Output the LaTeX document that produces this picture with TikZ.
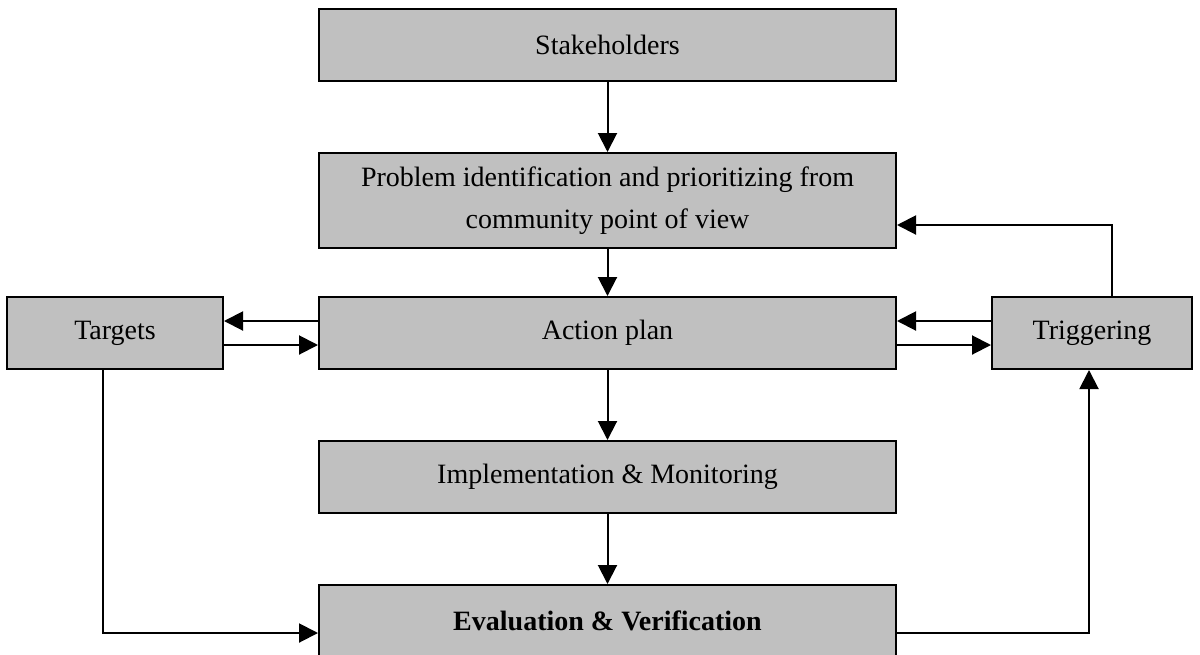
\documentclass[tikz,border=0pt]{standalone}
\usepackage{fontspec}
\setmainfont{Liberation Serif}
\usetikzlibrary{arrows.meta}
\begin{document}
\begin{tikzpicture}[x=0.5pt,y=-0.5pt,
  box/.style={draw=black,line width=1pt,fill={rgb,255:red,192;green,192;blue,192},
    inner sep=0pt,align=center,font=\fontsize{14}{21}\selectfont},
  arr/.style={draw=black,line width=1pt,-{Triangle[length=9.5pt,width=9.5pt]}}]
\useasboundingbox (0,0) rectangle (1200,654);
\node[box,minimum width=288.5pt,minimum height=36pt] (stake) at (607.5,45) {Stakeholders};
\node[box,minimum width=288.5pt,minimum height=47.5pt] (prob) at (607.5,200.5) {Problem identification and prioritizing from\\community point of view};
\node[box,minimum width=288.5pt,minimum height=36pt] (act) at (607.5,333) {Action plan};
\node[box,minimum width=108pt,minimum height=36pt] (tgt) at (115,333) {Targets};
\node[box,minimum width=100pt,minimum height=36pt] (trig) at (1092,333) {Triggering};
\node[box,minimum width=288.5pt,minimum height=36pt] (impl) at (607.5,477) {Implementation \& Monitoring};
\node[box,minimum width=288.5pt,minimum height=36pt] (eval) at (607.5,621) {\bfseries Evaluation \& Verification};
\draw[arr] (stake.south) -- (prob.north);
\draw[arr] (prob.south) -- (act.north);
\draw[arr] (act.south) -- (impl.north);
\draw[arr] (impl.south) -- (eval.north);
\draw[arr] ([yshift=6pt]act.west) -- ([yshift=6pt]tgt.east);
\draw[arr] ([yshift=-6pt]tgt.east) -- ([yshift=-6pt]act.west);
\draw[arr] ([yshift=6pt]trig.west) -- ([yshift=6pt]act.east);
\draw[arr] ([yshift=-6pt]act.east) -- ([yshift=-6pt]trig.west);
\draw[arr] ([xshift=10pt]trig.north) |- ([yshift=-12.25pt]prob.east);
\draw[arr] ([xshift=-6pt]tgt.south) |- ([yshift=-6pt]eval.west);
\draw[arr] ([yshift=-6pt]eval.east) -| ([xshift=-1.5pt]trig.south);
\end{tikzpicture}
\end{document}
